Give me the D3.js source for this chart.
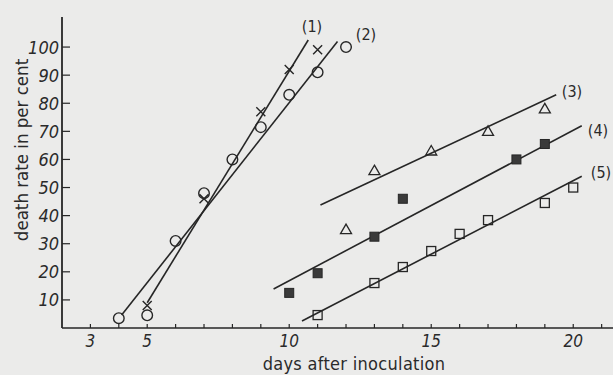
<!DOCTYPE html>
<html>
<head>
<meta charset="utf-8">
<script src="https://cdn.jsdelivr.net/npm/d3@7"></script>
<style>
  html, body { margin: 0; padding: 0; background: #ebebea; }
  svg { display: block; }
  text { fill: #2a2a2a; }
</style>
</head>
<body>
<svg id="chart" width="613" height="375"></svg>
<script>
// ---- data ----
const s1Days = [5, 7, 9, 10, 11];
const s1Vals = [8, 46, 77, 92, 99];
const s2Days = [4, 5, 6, 7, 8, 9, 10, 11, 12];
const s2Vals = [3.5, 4.5, 31, 48, 60, 71.5, 83, 91, 100];
const s3Days = [12, 13, 15, 17, 19];
const s3Vals = [35, 56, 63, 70, 78];
const s4Days = [10, 11, 13, 14, 18, 19];
const s4Vals = [12.5, 19.5, 32.5, 46, 60, 65.5];
const s5Days = [11, 13, 14, 15, 16, 17, 19, 20];
const s5Vals = [4.6, 16, 21.7, 27.4, 33.5, 38.4, 44.5, 50];

// fitted lines (start/end day and value)
const lineLabels = ["(1)", "(2)", "(3)", "(4)", "(5)"];
const lineStartDay = [5, 4.1, 11.1, 9.45, 10.45];
const lineStartVal = [9, 4.6, 43.8, 13.9, 2.5];
const lineEndDay = [10.67, 11.7, 19.4, 20.3, 20.3];
const lineEndVal = [102.5, 102, 83, 72, 54];

const xTickValues = [3,4,5,6,7,8,9,10,11,12,13,14,15,16,17,18,19,20,21];
const xTickLabels = [3, 5, 10, 15, 20];
const yTickValues = [10, 20, 30, 40, 50, 60, 70, 80, 90, 100];

// ---- drawing ----
const svg = d3.select("#chart");
const ink = "#262626";
const font = "DejaVu Sans Condensed, DejaVu Sans";
const x = d3.scaleLinear().domain([2, 21.4]).range([62, 613]);
const y = d3.scaleLinear().domain([0, 110.7]).range([328, 17]);

// axes
svg.append("line").attr("x1", x(2)).attr("x2", x(21.4)).attr("y1", y(0)).attr("y2", y(0))
  .attr("stroke", ink).attr("stroke-width", 1.6);
svg.append("line").attr("x1", x(2)).attr("x2", x(2)).attr("y1", y(0)).attr("y2", y(110.7))
  .attr("stroke", ink).attr("stroke-width", 1.8);

// x ticks (upward)
svg.append("g").selectAll("line").data(xTickValues).join("line")
  .attr("x1", d => x(d)).attr("x2", d => x(d))
  .attr("y1", y(0)).attr("y2", y(0) - 4)
  .attr("stroke", ink).attr("stroke-width", 1.2);
svg.append("g").selectAll("text").data(xTickLabels).join("text")
  .attr("x", d => x(d)).attr("y", 347)
  .attr("text-anchor", "middle")
  .attr("font-family", font)
  .attr("font-style", "italic")
  .attr("font-size", 17)
  .text(d => d);

// y ticks (to the right)
svg.append("g").selectAll("line").data(yTickValues).join("line")
  .attr("x1", x(2)).attr("x2", x(2) + 8)
  .attr("y1", d => y(d)).attr("y2", d => y(d))
  .attr("stroke", ink).attr("stroke-width", 1.2);
svg.append("g").selectAll("text").data(yTickValues).join("text")
  .attr("x", 59).attr("y", d => y(d) + 6.5)
  .attr("text-anchor", "end")
  .attr("font-family", font)
  .attr("font-style", "italic")
  .attr("font-size", 18)
  .text(d => d);

// axis titles
svg.append("text").attr("x", 354).attr("y", 370)
  .attr("text-anchor", "middle")
  .attr("font-family", font)
  .attr("font-size", 18)
  .attr("letter-spacing", 0.3)
  .text("days after inoculation");
svg.append("text")
  .attr("transform", "translate(28,150) rotate(-90)")
  .attr("text-anchor", "middle")
  .attr("font-family", font)
  .attr("font-size", 18.5)
  .text("death rate in per cent");

// fitted lines
const lineIdx = d3.range(lineLabels.length);
svg.append("g").selectAll("line").data(lineIdx).join("line")
  .attr("x1", i => x(lineStartDay[i])).attr("y1", i => y(lineStartVal[i]))
  .attr("x2", i => x(lineEndDay[i])).attr("y2", i => y(lineEndVal[i]))
  .attr("stroke", ink).attr("stroke-width", 1.6);

// line labels
const labelPos = [[312, 32], [366, 40], [572, 97], [598, 136], [601, 178]];
svg.append("g").selectAll("text").data(lineIdx).join("text")
  .attr("x", i => labelPos[i][0]).attr("y", i => labelPos[i][1])
  .attr("text-anchor", "middle")
  .attr("font-family", font)
  .attr("font-size", 16)
  .text(i => lineLabels[i]);

// markers
const pts = (days, vals) => days.map((d, i) => ({ d, v: vals[i] }));
// series 1: crosses
svg.append("g").selectAll("path").data(pts(s1Days, s1Vals)).join("path")
  .attr("d", p => { const cx = x(p.d), cy = y(p.v), r = 4.5;
    return `M${cx-r},${cy-r}L${cx+r},${cy+r}M${cx-r},${cy+r}L${cx+r},${cy-r}`; })
  .attr("stroke", ink).attr("stroke-width", 1.4).attr("fill", "none");
// series 2: circles
svg.append("g").selectAll("circle").data(pts(s2Days, s2Vals)).join("circle")
  .attr("cx", p => x(p.d)).attr("cy", p => y(p.v)).attr("r", 5.3)
  .attr("stroke", ink).attr("stroke-width", 1.4).attr("fill", "none");
// series 3: triangles
svg.append("g").selectAll("path").data(pts(s3Days, s3Vals)).join("path")
  .attr("d", p => { const cx = x(p.d), cy = y(p.v);
    return `M${cx},${cy-5.5}L${cx+5.5},${cy+4}L${cx-5.5},${cy+4}Z`; })
  .attr("stroke", ink).attr("stroke-width", 1.3).attr("fill", "none");
// series 4: filled squares
svg.append("g").selectAll("rect").data(pts(s4Days, s4Vals)).join("rect")
  .attr("x", p => x(p.d) - 4.5).attr("y", p => y(p.v) - 4.5)
  .attr("width", 9).attr("height", 9)
  .attr("fill", "#3a3a3a").attr("stroke", ink).attr("stroke-width", 1);
// series 5: open squares
svg.append("g").selectAll("rect").data(pts(s5Days, s5Vals)).join("rect")
  .attr("x", p => x(p.d) - 4.5).attr("y", p => y(p.v) - 4.5)
  .attr("width", 9).attr("height", 9)
  .attr("fill", "none").attr("stroke", ink).attr("stroke-width", 1.3);
</script>
</body>
</html>
